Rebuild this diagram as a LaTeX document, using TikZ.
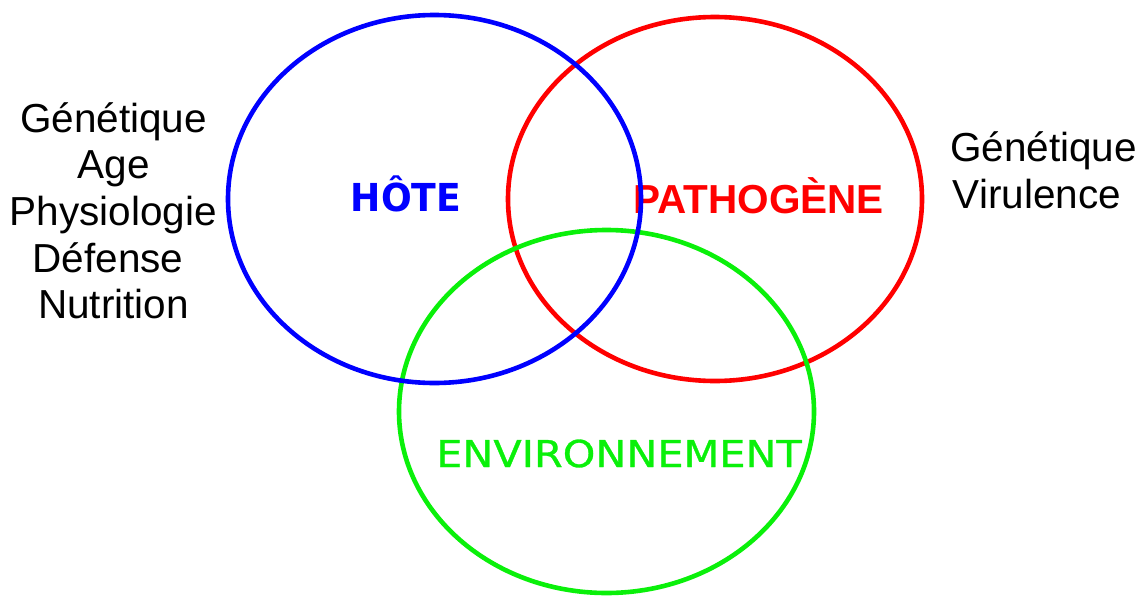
\documentclass[tikz,border=0pt]{standalone}
\usepackage{fontspec}
\setmainfont{Liberation Sans}
\newfontfamily\djv{DejaVu Sans}
\newfontfamily\djvm[FakeBold=0.8]{DejaVu Sans}
\newfontfamily\lib{Liberation Sans}
\definecolor{hblue}{RGB}{0,0,255}
\definecolor{pred}{RGB}{255,0,0}
\definecolor{egreen}{RGB}{10,240,10}
\begin{document}
\begin{tikzpicture}[x=1pt,y=-1pt,
  side/.style={anchor=base,inner sep=0pt,font=\lib\fontsize{40.5}{47}\selectfont},
  circ/.style={line width=4.6pt}]
\useasboundingbox (0,0) rectangle (1143,597);
% left list
\node[side] (g1) at (113.5,132) {Génétique};
\node[side] (g2) at (113.5,178.5) {Age};
\node[side] (g3) at (113.5,225) {Physiologie};
\node[side] (g4) at (108,272) {Défense};
\node[side] (g5) at (113.5,318.5) {Nutrition};
% right list
\node[side] (r1) at (1043.5,161) {Génétique};
\node[side] (r2) at (1037,208) {Virulence};
% labels
\node[anchor=base,inner sep=0pt,text=hblue,font=\djv\bfseries\fontsize{38.5}{42}\selectfont] (hote) at (406,211) {\scalebox{0.94}[1]{HÔTE}};
\node[anchor=base,inner sep=0pt,text=pred,font=\lib\bfseries\fontsize{40.5}{44}\selectfont] (path) at (758.5,213) {PATHOGÈNE};
\node[anchor=base,inner sep=0pt,text=egreen,font=\djvm\fontsize{37}{40}\selectfont] (env) at (619,467) {\scalebox{1.12}[1]{ENVIRONNEMENT}};
% ellipses
\draw[circ,pred] (715,199) ellipse [x radius=207,y radius=182];
\draw[circ,egreen] (606.5,411.5) ellipse [x radius=207.5,y radius=181.5];
\draw[circ,hblue] (434.5,199) ellipse [x radius=206.5,y radius=184];
\end{tikzpicture}
\end{document}
